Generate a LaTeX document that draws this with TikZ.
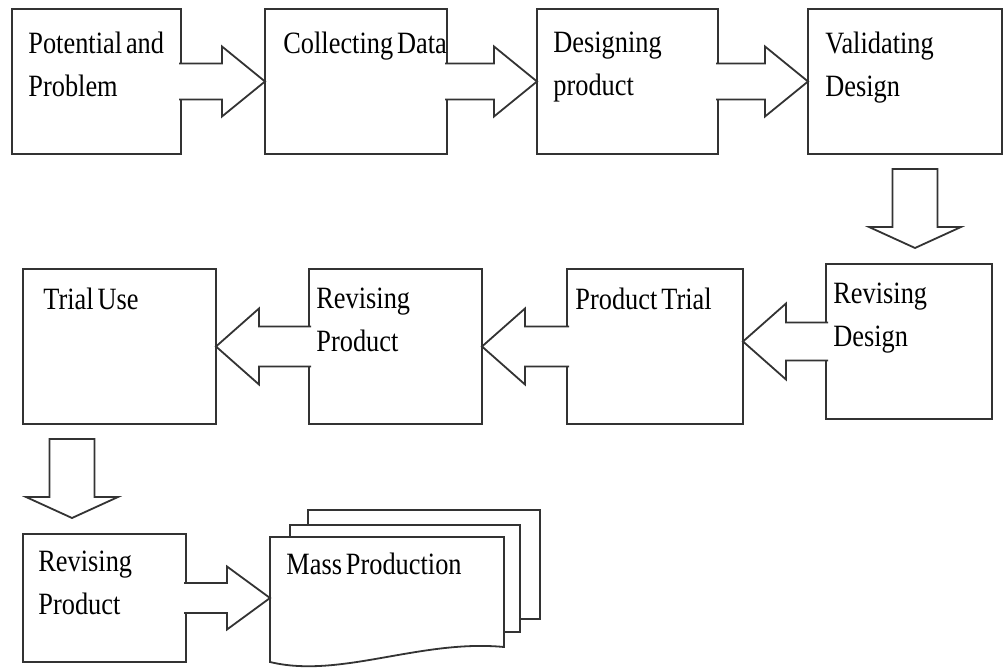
\documentclass[tikz,border=0pt]{standalone}
\usepackage{fontspec}
\setmainfont{Liberation Serif}[FakeStretch=0.85, WordSpace=0.6]
\usetikzlibrary{positioning,calc}

\begin{document}
\begin{tikzpicture}[
    every node/.style={font=\fontsize{15.5pt}{21.5pt}\selectfont},
    stage/.style={rectangle, draw=black!80, line width=0.9pt, fill=white, inner sep=0pt, outer sep=0pt},
    toprow/.style={stage, minimum height=72.5pt},
    midrow/.style={stage, minimum height=77.5pt},
    caption/.style={anchor=north west, align=left, inner sep=0pt},
    page/.style={draw=black!80, line width=0.9pt, fill=white},
    blockright/.style 2 args={draw=black!80, line width=0.9pt, fill=white, to path={
        ($(\tikztostart.east)+(-1pt,#1)$)
        -- ($(\tikztotarget.west |- \tikztostart.east)+(-21.5pt,#1)$)
        -- ($(\tikztotarget.west |- \tikztostart.east)+(-21.5pt,#2)$)
        -- (\tikztotarget.west |- \tikztostart.east)
        -- ($(\tikztotarget.west |- \tikztostart.east)+(-21.5pt,-#2)$)
        -- ($(\tikztotarget.west |- \tikztostart.east)+(-21.5pt,-#1)$)
        -- ($(\tikztostart.east)+(-1pt,-#1)$)}},
    blockleft/.style 2 args={draw=black!80, line width=0.9pt, fill=white, to path={
        ($(\tikztostart.west)+(1pt,#1)$)
        -- ($(\tikztotarget.east |- \tikztostart.west)+(21.5pt,#1)$)
        -- ($(\tikztotarget.east |- \tikztostart.west)+(21.5pt,#2)$)
        -- (\tikztotarget.east |- \tikztostart.west)
        -- ($(\tikztotarget.east |- \tikztostart.west)+(21.5pt,-#2)$)
        -- ($(\tikztotarget.east |- \tikztostart.west)+(21.5pt,-#1)$)
        -- ($(\tikztostart.west)+(1pt,-#1)$)}},
    blockdown/.style={draw=black!80, line width=0.9pt, fill=white, to path={
        ($(\tikztostart.south)+(#1-11.25pt,-7.5pt)$)
        -- ($(\tikztotarget.north -| \tikztostart.south)+(#1-11.25pt,18.5pt)$)
        -- ($(\tikztotarget.north -| \tikztostart.south)+(#1-23pt,18.5pt)$)
        -- ($(\tikztotarget.north -| \tikztostart.south)+(#1,8pt)$)
        -- ($(\tikztotarget.north -| \tikztostart.south)+(#1+23pt,18.5pt)$)
        -- ($(\tikztotarget.north -| \tikztostart.south)+(#1+11.25pt,18.5pt)$)
        -- ($(\tikztostart.south)+(#1+11.25pt,-7.5pt)$) -- cycle}}
]
    \useasboundingbox (0,0) rectangle (502.5pt,-336pt);

    % Nodes
    \node[toprow, minimum width=84.5pt] (potential) at (48.25pt,-40.75pt) {};
    \node[toprow, minimum width=91pt, right=42pt of potential] (collect) {};
    \node[toprow, minimum width=90.5pt, right=45pt of collect] (design) {};
    \node[toprow, minimum width=97pt, right=45pt of design] (validate) {};
    \node[midrow, minimum width=83pt, below=55pt of validate, xshift=2pt] (revdesign) {};
    \node[midrow, minimum width=88pt, left=41.5pt of revdesign, yshift=-2.5pt] (trial) {};
    \node[midrow, minimum width=86.5pt, left=42.5pt of trial] (revproduct) {};
    \node[midrow, minimum width=96.5pt, left=46.5pt of revproduct] (use) {};
    \node[stage, minimum width=81.5pt, minimum height=64pt, below=55pt of use.south west, anchor=north west] (revfinal) {};
    \node[minimum width=117pt, minimum height=55pt, inner sep=0pt, outer sep=0pt, right=42pt of revfinal, yshift=3pt] (mass) {};

    % Document stack
    \draw[page] ($(mass.north west)+(19pt,13.5pt)$) rectangle ($(mass.south east)+(18pt,14pt)$);
    \draw[page] ($(mass.north west)+(10pt,6pt)$) rectangle ($(mass.south east)+(8pt,7.5pt)$);
    \draw[page] (mass.north west) -- (mass.north east) -- (mass.south east)
        .. controls ($(mass.south east)+(-42pt,4pt)$) and ($(mass.south west)+(35pt,-16pt)$)
        .. ($(mass.south west)+(0,-7.5pt)$) -- cycle;

    % Texts
    \node[caption] (potential-t) at ($(potential.north west)+(8pt,-11.5pt)$) {Potential and\\Problem};
    \node[caption] (collect-t) at ($(collect.north west)+(9pt,-11.5pt)$) {Collecting Data};
    \node[caption] (design-t) at ($(design.north west)+(8pt,-11.5pt)$) {Designing\\product};
    \node[caption] (validate-t) at ($(validate.north west)+(8.5pt,-11.5pt)$) {Validating\\Design};
    \node[caption] (revdesign-t) at ($(revdesign.north west)+(3.5pt,-9.5pt)$) {Revising\\Design};
    \node[caption] (trial-t) at ($(trial.north west)+(4pt,-9.5pt)$) {Product Trial};
    \node[caption] (revproduct-t) at ($(revproduct.north west)+(3.5pt,-9.5pt)$) {Revising\\Product};
    \node[caption] (use-t) at ($(use.north west)+(10pt,-9.5pt)$) {Trial Use};
    \node[caption] (revfinal-t) at ($(revfinal.north west)+(7.5pt,-8.5pt)$) {Revising\\Product};
    \node[caption] (mass-t) at ($(mass.north west)+(8pt,-8pt)$) {Mass Production};

    % Arrows
    \draw[blockright={9pt}{17.5pt}] (potential) to (collect);
    \draw[blockright={9pt}{17.5pt}] (collect) to (design);
    \draw[blockright={9pt}{17.5pt}] (design) to (validate);
    \draw[blockdown=5pt] (validate) to (revdesign);
    \draw[blockleft={9.5pt}{19pt}] (revdesign) to (trial);
    \draw[blockleft={10pt}{19pt}] (trial) to (revproduct);
    \draw[blockleft={10pt}{19pt}] (revproduct) to (use);
    \draw[blockdown=-23.75pt] (use) to (revfinal);
    \draw[blockright={7.5pt}{15.75pt}] (revfinal) to (mass);

\end{tikzpicture}
\end{document}
